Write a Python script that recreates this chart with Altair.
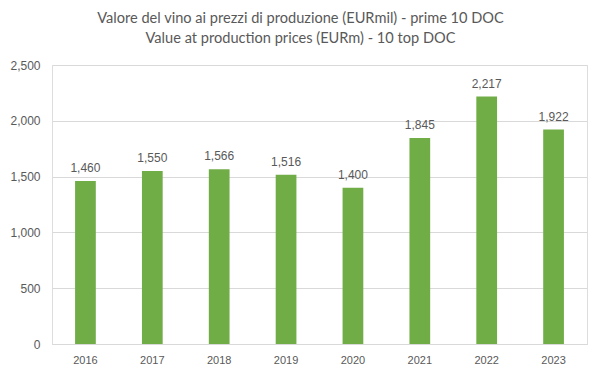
import altair as alt
import pandas as pd

years = ["2016", "2017", "2018", "2019", "2020", "2021", "2022", "2023"]
values = [1460, 1550, 1566, 1516, 1400, 1845, 2217, 1922]
title_lines = ["Valore del vino ai prezzi di produzione (EURmil) - prime 10 DOC",
               "Value at production prices (EURm) - 10 top DOC"]

df = pd.DataFrame({"year": years, "value": values})
FONT = "Lato"
NUM = "Liberation Sans"
GREY = "#595959"

base = alt.Chart(df).encode(
    x=alt.X("year:N", sort=years, title=None,
            scale=alt.Scale(paddingInner=0.69, paddingOuter=0.345),
            axis=alt.Axis(labelAngle=0, ticks=False, domain=True, domainColor="#D9D9D9",
                          labelColor=GREY, labelFont=NUM, labelFontSize=11,
                          labelPadding=10)),
    y=alt.Y("value:Q", title=None,
            scale=alt.Scale(domain=[0, 2500]),
            axis=alt.Axis(values=[0, 500, 1000, 1500, 2000, 2500], format=",.0f", ticks=False,
                          domain=False, gridColor="#D9D9D9", labelColor=GREY, labelFont=NUM,
                          labelFontSize=12, labelPadding=12)),
)

bars = base.mark_bar(color="#70AD47")
labels = base.mark_text(dy=-9, font=NUM, fontSize=12, color=GREY, baseline="alphabetic").encode(
    text=alt.Text("value:Q", format=",.0f")
)

chart = (bars + labels).properties(
    width=535, height=279,
    title=alt.TitleParams(text=title_lines, font=FONT, fontSize=14.6, fontWeight="normal",
                          color=GREY, anchor="middle", dx=-19, offset=13, lineHeight=20),
    autosize=alt.AutoSizeParams(type="none"),
    padding={"left": 44, "top": 57, "right": 6, "bottom": 26},
).configure_view(stroke=None).configure(background="white")

chart.save("out.html", embed_options={"renderer": "svg", "actions": False})
